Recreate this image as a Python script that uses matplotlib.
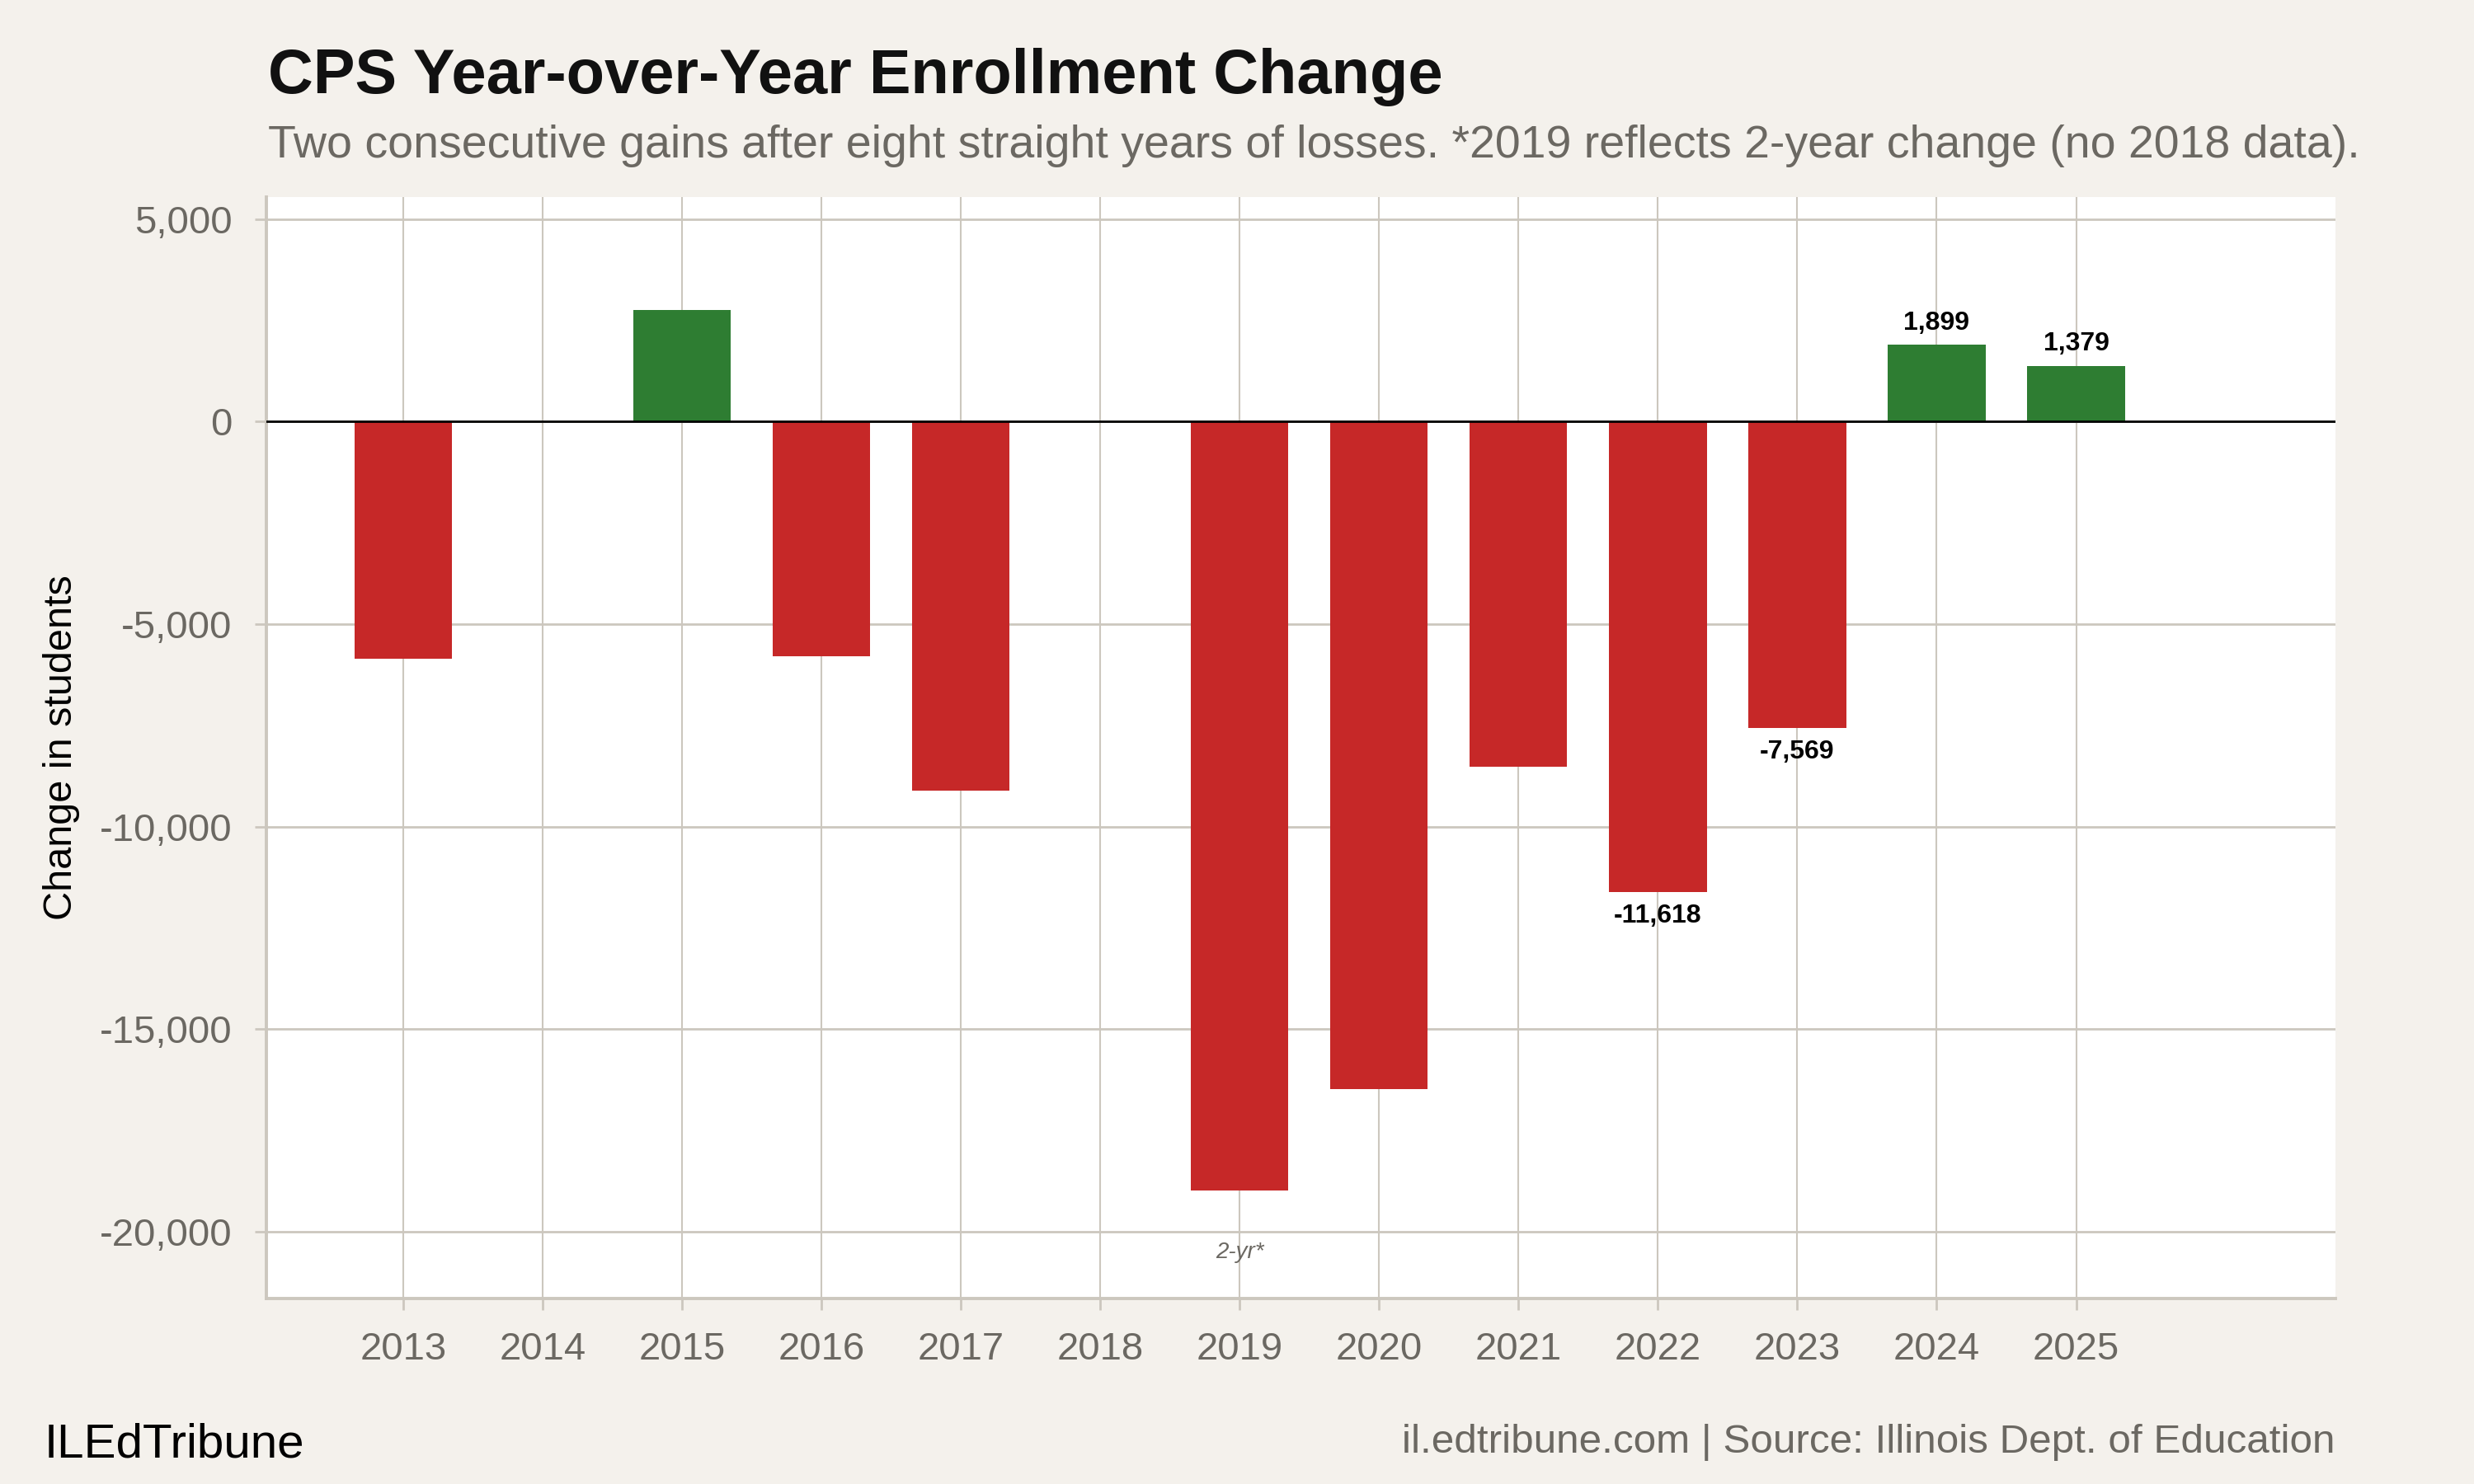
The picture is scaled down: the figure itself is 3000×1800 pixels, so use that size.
import matplotlib.pyplot as plt
import numpy as np

plt.rcParams['font.family'] = ['Liberation Sans', 'DejaVu Sans']

# data
years = [2013, 2014, 2015, 2016, 2017, 2018, 2019, 2020, 2021, 2022, 2023, 2024, 2025]
change = [-5862, np.nan, 2749, -5787, -9110, np.nan, -18975, -16467, -8510, -11618, -7569, 1899, 1379]
labeled_years = [2022, 2023, 2024, 2025]
yticks = [5000, 0, -5000, -10000, -15000, -20000]

bg = '#F4F1EC'
grid_c = '#CCC7BE'
gray_txt = '#6B6862'
red = '#C62828'
green = '#2E7D32'

fig = plt.figure(figsize=(15, 9), dpi=200, facecolor=bg)
ax = fig.add_axes([0.1077, 0.125, 0.8363, 0.7422])
ax.set_facecolor('white')

vals = np.array(change, dtype=float)
cols = [green if v > 0 else red for v in np.nan_to_num(vals)]
ax.bar(years, np.nan_to_num(vals), width=0.7, color=cols, zorder=2)
ax.axhline(0, color='black', lw=1.0, zorder=3)

ax.set_xlim(2012.02, 2026.86)
ax.set_ylim(-21646, 5541)
ax.set_xticks(years)
ax.set_yticks(yticks)
ax.set_yticklabels([f'{t:,}' for t in yticks])

ax.grid(axis='y', color=grid_c, lw=1.0, zorder=0)
ax.grid(axis='x', color=grid_c, lw=0.75, zorder=0)

for s in ['top', 'right']:
    ax.spines[s].set_visible(False)
for s in ['left', 'bottom']:
    ax.spines[s].set_color(grid_c)
    ax.spines[s].set_linewidth(1.4)

ax.tick_params(axis='both', colors=grid_c, labelcolor=gray_txt, labelsize=17,
               length=5, width=1.0)
ax.tick_params(axis='y', pad=10)
ax.tick_params(axis='x', pad=9.5)

ax.set_ylabel('Change in students', fontsize=17.5, color='black', labelpad=8.5)

# value labels
for y, v in zip(years, change):
    if y in labeled_years:
        if v > 0:
            ax.annotate(f'{v:,}', (y, v), xytext=(0, 4), textcoords='offset points',
                        ha='center', va='bottom', fontsize=11.5, fontweight='bold')
        else:
            ax.annotate(f'{v:,}', (y, v), xytext=(0, -5), textcoords='offset points',
                        ha='center', va='top', fontsize=11.5, fontweight='bold')

ax.annotate('2-yr*', (2019, change[years.index(2019)]), xytext=(0, -27),
            textcoords='offset points', ha='center', va='center',
            fontsize=10, style='italic', color=gray_txt)

fig.text(0.1083, 1 - 113 / 1800, 'CPS Year-over-Year Enrollment Change',
         fontsize=27.3, fontweight='bold', color='#111111', ha='left', va='baseline')
fig.text(0.1083, 1 - 191 / 1800,
         'Two consecutive gains after eight straight years of losses. '
         '*2019 reflects 2-year change (no 2018 data).',
         fontsize=20, color=gray_txt, ha='left', va='baseline')

fig.text(54 / 3000, 1 - 1767 / 1800, 'ILEdTribune', fontsize=21, color='black',
         ha='left', va='baseline')
fig.text(2832 / 3000, 1 - 1762 / 1800,
         'il.edtribune.com | Source: Illinois Dept. of Education',
         fontsize=17.8, color=gray_txt, ha='right', va='baseline')

fig.savefig('out.png', dpi=200, facecolor=bg)
